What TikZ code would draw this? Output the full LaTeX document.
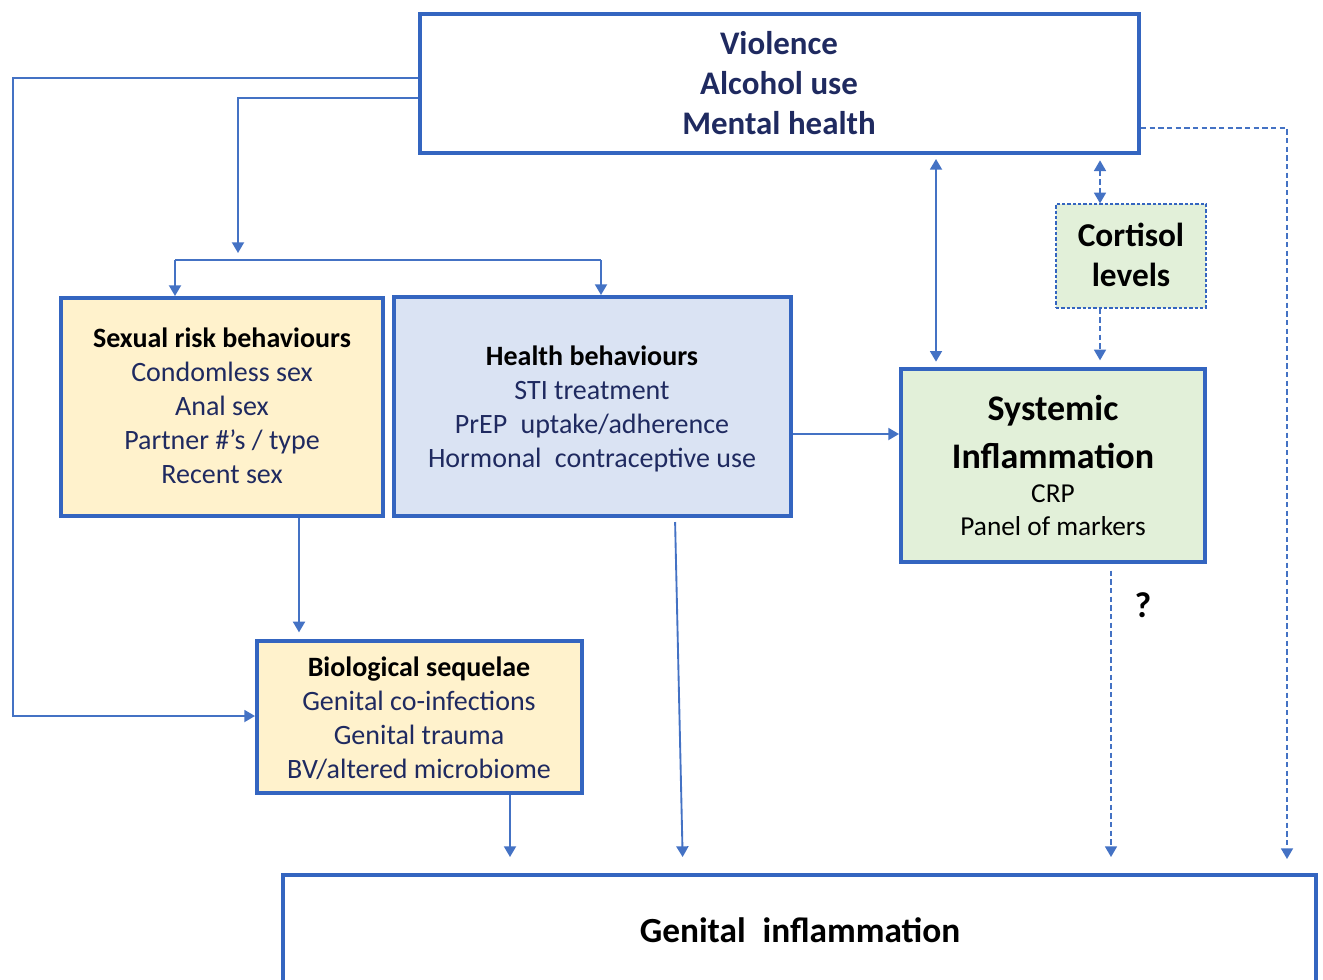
\documentclass[tikz,border=0pt]{standalone}
\usepackage{fontspec}
\setmainfont{Carlito}
\usetikzlibrary{arrows.meta,fit,calc}
\definecolor{bord}{HTML}{3465C0}
\definecolor{arr}{HTML}{4472C4}
\definecolor{navy}{HTML}{1F2A60}
\definecolor{yel}{HTML}{FFF2CC}
\definecolor{blu}{HTML}{DAE3F3}
\definecolor{grn}{HTML}{E2F0D9}
\tikzset{
  box/.style={draw=bord, line width=3pt, inner sep=0pt},
  dbox/.style={draw=bord, line width=1pt, dash pattern=on 2.5pt off 1.5pt, inner sep=0pt},
  txt/.style={inner sep=0pt, align=center},
  conn/.style={draw=arr, line width=1.4pt, -{Triangle[width=9pt,length=8pt]}},
  dconn/.style={conn, line width=1.2pt, dash pattern=on 4pt off 2.5pt},
  plain/.style={draw=arr, line width=1.4pt},
  bodyfont/.style={font=\fontsize{21}{25.5}\selectfont},
  bigfont/.style={font=\fontsize{27}{34.5}\selectfont\bfseries},
  midfont/.style={font=\fontsize{20.5}{25}\selectfont},
}
\newcommand\hdr[1]{\textcolor{black}{\bfseries #1}}
\begin{document}
\begin{tikzpicture}[x=0.75pt,y=-0.75pt]
\useasboundingbox (0,0) rectangle (1323,979);
\clip (0,0) rectangle (1323,979);
% boxes
\node[box, fit={(420,14) (1139,153)}] (top) {};
\node[box, fill=yel, fit={(61,298) (383,516)}] (sex) {};
\node[box, fill=blu, fit={(394,297) (791,516)}] (hea) {};
\node[box, fill=grn, fit={(901,369) (1205,562)}] (sys) {};
\node[dbox, fill=grn, fit={(1056,204) (1206,308)}] (cor) {};
\node[box, fill=yel, fit={(257,641) (582,793)}] (bio) {};
\node[box, fit={(283,875) (1316,1060)}] (gen) {};
% texts
\node[txt, text=navy, font=\fontsize{24.7}{30}\selectfont\bfseries] (toptext) at (779,83) {Violence\\Alcohol use\\Mental health};
\node[txt, text=navy, bodyfont] (sextext) at (222,406) {\hdr{Sexual risk behaviours}\\Condomless sex\\Anal sex\\Partner \#'s / type\\Recent sex};
\node[txt, text=navy, bodyfont] (heatext) at (592,409) {\hdr{Health behaviours}\\STI treatment\\PrEP\hspace{0.25em} uptake/adherence\\Hormonal\hspace{0.25em} contraceptive use};
\node[txt, bigfont] (sys1) at (1053,411) {Systemic};
\node[txt, bigfont] (sys2) at (1053,456) {Inflammation};
\node[txt, midfont] (sys3) at (1053,494) {CRP};
\node[txt, midfont] (sys4) at (1053,526) {Panel of markers};
\node[txt, font=\fontsize{25}{30}\selectfont\bfseries] (cortext) at (1131,255) {Cortisol\\levels};
\node[txt, text=navy, bodyfont] (biotext) at (419,718) {\hdr{Biological sequelae}\\Genital co-infections\\Genital trauma\\BV/altered microbiome};
\node[txt, font=\fontsize{26.5}{32}\selectfont\bfseries] (gentext) at (800,930) {Genital\hspace{0.25em} inflammation};
\node[txt, font=\fontsize{27}{32}\selectfont\bfseries] (q) at (1143,605) {?};
% coordinates
\coordinate (lb) at (13,716);
\coordinate (hub) at (238,253);
\coordinate (brL) at (175,260);
\coordinate (brR) at (601,260);
\coordinate (rc) at (1287,128);
% connectors
\draw[conn] (top.west |- 0,78) -| (lb) -- (bio.west |- lb);
\draw[conn] (top.west |- 0,98) -| (hub);
\draw[plain] (brL) -- (brR);
\draw[conn] (brL) -- (brL |- sex.north);
\draw[conn] (brR) -- (brR |- hea.north);
\draw[conn, {Triangle[width=9pt,length=8pt]}-{Triangle[width=9pt,length=8pt]}, shorten <=3pt, shorten >=4pt] (top.south -| 936,0) -- (sys.north -| 936,0);
\draw[dconn, {Triangle[width=9pt,length=8pt]}-{Triangle[width=9pt,length=8pt]}, shorten <=4pt] (top.south -| 1100,0) -- (cor.north -| 1100,0);
\draw[dconn, shorten >=5pt] (cor.south -| 1100,0) -- (sys.north -| 1100,0);
\draw[dconn] (top.east |- rc) -| ($(gen.north -| rc)+(0,-14)$);
\draw[conn] (hea.east |- 0,434) -- (sys.west |- 0,434);
\draw[conn, shorten >=5pt] (sex.south -| 299,0) -- (bio.north -| 299,0);
\draw[conn, shorten <=3pt, shorten >=12pt] (hea.south -| 675,0) -- (gen.north -| 683,0);
\draw[conn, shorten >=12pt] (bio.south -| 510,0) -- (gen.north -| 510,0);
\draw[dconn, shorten <=5pt, shorten >=12pt] (sys.south -| 1111,0) -- (gen.north -| 1111,0);
\end{tikzpicture}
\end{document}
